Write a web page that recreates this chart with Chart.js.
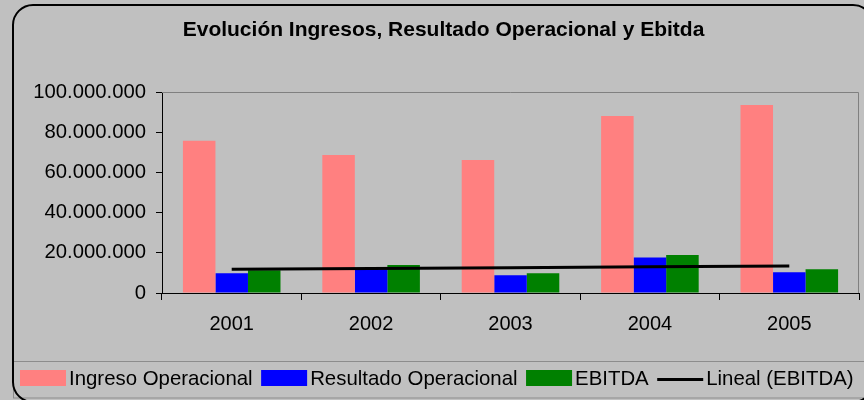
<!DOCTYPE html>
<html><head><meta charset="utf-8">
<script src="https://cdn.jsdelivr.net/npm/chart.js@4"></script>
<style>html,body{margin:0;padding:0;background:#C0C0C0;overflow:hidden;} #wrap{width:864px;height:400px;}</style>
</head><body><div id="wrap"><canvas id="c" width="864" height="400"></canvas></div>
<script>
const years = ['2001', '2002', '2003', '2004', '2005'];
const ingresoOperacional = [75800000, 68700000, 66200000, 88000000, 93500000];
const resultadoOperacional = [9800000, 11800000, 8800000, 17600000, 10300000];
const ebitda = [11300000, 13900000, 9800000, 18900000, 11800000];
const linealEbitda = [11800000, 12200000, 12600000, 13000000, 13400000];
const seriesNames = ['Ingreso Operacional', 'Resultado Operacional', 'EBITDA', 'Lineal (EBITDA)'];
const chartTitle = 'Evolución Ingresos, Resultado Operacional y Ebitda';

const FONT = "'Liberation Sans', Arial, sans-serif";

function fmt(v) {
  return String(Math.round(v)).replace(/\B(?=(\d{3})+(?!\d))/g, '.');
}

const framePlugin = {
  id: 'frame',
  beforeDraw(chart) {
    const ctx = chart.ctx;
    ctx.save();
    ctx.fillStyle = '#C0C0C0';
    ctx.fillRect(0, 0, chart.width, chart.height);
    // legend box
    ctx.strokeStyle = '#8C8C8C';
    ctx.lineWidth = 1;
    ctx.strokeRect(13.5, 361.5, 870, 36.5);
    // outer rounded border
    ctx.strokeStyle = '#000';
    ctx.lineWidth = 2;
    ctx.beginPath();
    ctx.roundRect(13, 5, 860, 397, 20);
    ctx.stroke();
    ctx.restore();
  },
  beforeDatasetsDraw(chart) {
    const {ctx, chartArea: a} = chart;
    ctx.save();
    ctx.strokeStyle = '#808080';
    ctx.lineWidth = 1;
    ctx.beginPath();
    ctx.moveTo(a.left, a.top + 0.5);
    ctx.lineTo(a.right - 0.5, a.top + 0.5);
    ctx.lineTo(a.right - 0.5, a.bottom);
    ctx.stroke();
    ctx.restore();
  },
  afterDraw(chart) {
    const ctx = chart.ctx;
    ctx.save();
    // title
    ctx.fillStyle = '#000';
    ctx.font = 'bold 21px ' + FONT;
    ctx.textAlign = 'center';
    ctx.textBaseline = 'middle';
    ctx.fillText(chartTitle, 443.5, 30);
    // legend
    ctx.font = '20.4px ' + FONT;
    ctx.textAlign = 'left';
    let x = 20;
    chart.data.datasets.forEach(ds => {
      if (ds.type === 'line') {
        ctx.strokeStyle = ds.borderColor;
        ctx.lineWidth = 3;
        ctx.beginPath();
        ctx.moveTo(x, 379.5);
        ctx.lineTo(x + 46, 379.5);
        ctx.stroke();
      } else {
        ctx.fillStyle = ds.backgroundColor;
        ctx.fillRect(x, 370, 46, 16);
      }
      ctx.fillStyle = '#000';
      ctx.fillText(ds.label, x + 49, 379);
      x += 49 + ctx.measureText(ds.label).width + 8.5;
    });
    ctx.restore();
  }
};

new Chart(document.getElementById('c'), {
  type: 'bar',
  data: {
    labels: years,
    datasets: [
      {label: seriesNames[0], data: ingresoOperacional, backgroundColor: '#FF8080', order: 1},
      {label: seriesNames[1], data: resultadoOperacional, backgroundColor: '#0000FF', order: 1},
      {label: seriesNames[2], data: ebitda, backgroundColor: '#008000', order: 1},
      {label: seriesNames[3], data: linealEbitda, type: 'line', borderColor: '#000000', backgroundColor: '#000000',
       borderWidth: 3, pointRadius: 0, fill: false, tension: 0, order: 0}
    ]
  },
  options: {
    responsive: false,
    animation: false,
    devicePixelRatio: 1,
    categoryPercentage: 0.70,
    barPercentage: 1.0,
    layout: {padding: {top: 92, right: 5, left: 0, bottom: 0}},
    plugins: {legend: {display: false}, title: {display: false}, tooltip: {enabled: false}},
    scales: {
      x: {
        grid: {offset: true, drawOnChartArea: false, drawTicks: true, tickLength: 7, color: '#000'},
        border: {color: '#000', width: 1},
        ticks: {font: {family: FONT, size: 20}, color: '#000', padding: 12, maxRotation: 0},
        afterFit(s) { s.height = 107; }
      },
      y: {
        min: 0, max: 100000000,
        grid: {drawOnChartArea: false, drawTicks: true, tickLength: 6, color: '#000'},
        border: {color: '#000', width: 1},
        ticks: {stepSize: 20000000, font: {family: FONT, size: 20.3}, color: '#000', padding: 10, callback: v => fmt(v)},
        afterFit(s) { s.width = 162; }
      }
    }
  },
  plugins: [framePlugin]
});
</script>
</body></html>
